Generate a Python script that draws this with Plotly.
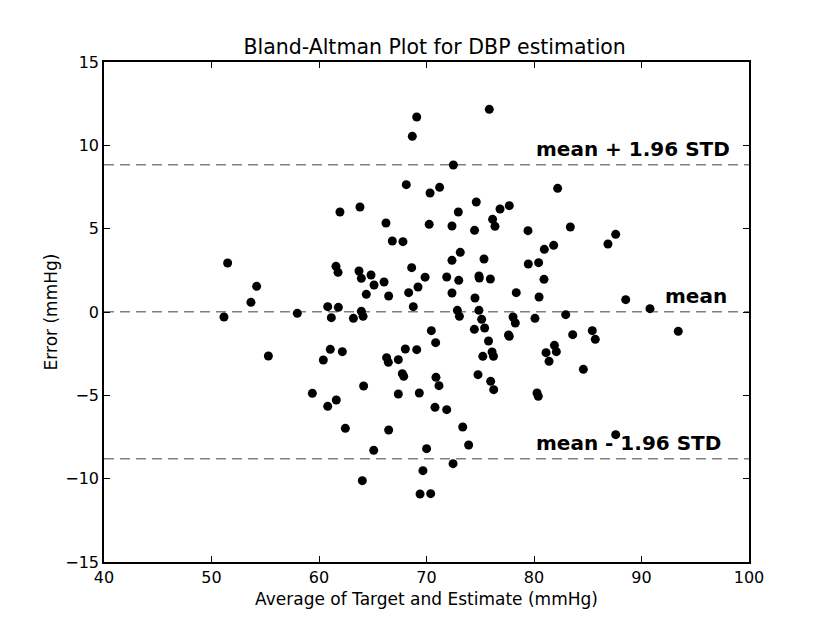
import plotly.graph_objects as go

# mean of target/estimate (x) and error (y)
avg_bp = [
    69.09, 68.68, 68.12, 70.33, 63.81, 61.95, 66.23, 70.25, 66.82, 67.81,
    51.50, 61.58, 61.77, 63.72, 64.84, 63.94, 66.05, 68.62, 65.12, 69.87,
    54.20, 69.21, 64.40, 66.48, 68.34, 53.67, 60.81, 61.80, 68.77, 63.94,
    51.16, 57.98, 61.15, 63.20, 64.10, 70.45, 55.29, 60.40, 61.05, 62.17,
    66.29, 66.45, 67.38, 68.03, 69.09, 67.75, 67.88, 59.38, 64.15, 67.38,
    69.33, 61.61, 60.81, 62.45, 66.48, 65.09, 70.01, 69.67, 64.03, 69.40,
    70.39, 72.87, 73.06, 74.88, 75.13, 74.45, 75.41, 70.85, 75.77, 76.10,
    76.23, 75.24, 78.05, 78.26, 80.09, 82.95, 77.63, 77.70, 83.60, 85.42,
    85.70, 93.42, 81.12, 81.90, 82.08, 81.40, 84.59, 70.88, 71.16, 74.79,
    75.97, 76.25, 80.28, 80.40, 70.79, 71.88, 73.37, 73.92, 87.60, 72.47,
    90.79, 88.53, 75.84, 72.50, 71.22, 82.20, 74.63, 72.96, 76.84, 77.70,
    76.15, 76.37, 72.37, 74.47, 79.44, 83.38, 87.60, 86.88, 81.83, 80.96,
    73.14, 72.37, 75.35, 79.47, 80.43, 71.88, 73.00, 74.88, 74.91, 75.94,
    80.93, 72.37, 74.51, 78.35, 80.47,
]
error = [
    11.70, 10.54, 7.64, 7.14, 6.30, 6.00, 5.34, 5.26, 4.26, 4.22,
    2.94, 2.74, 2.38, 2.46, 2.22, 2.02, 1.80, 2.66, 1.62, 2.09,
    1.54, 1.50, 1.06, 0.96, 1.16, 0.58, 0.32, 0.28, 0.32, 0.04,
    -0.30, -0.08, -0.34, -0.38, -0.26, -1.12, -2.64, -2.88, -2.24, -2.38,
    -2.74, -3.02, -2.86, -2.22, -2.26, -3.70, -3.86, -4.88, -4.44, -4.92,
    -4.86, -5.28, -5.66, -6.98, -7.08, -8.30, -8.20, -9.52, -10.12, -10.92,
    -10.90, 0.10, -0.26, 0.10, -0.44, -1.04, -0.96, -1.84, -1.74, -2.40,
    -2.66, -2.66, -0.30, -0.66, -0.38, -0.16, -1.38, -1.46, -1.36, -1.12,
    -1.64, -1.16, -2.44, -2.00, -2.38, -2.96, -3.44, -3.92, -4.42, -3.76,
    -4.16, -4.66, -4.86, -5.06, -5.72, -5.86, -6.90, -7.98, -7.36, -9.10,
    0.20, 0.74, 12.16, 8.82, 7.48, 7.42, 6.60, 6.00, 6.18, 6.38,
    5.56, 5.14, 5.16, 4.90, 4.88, 5.10, 4.66, 4.08, 4.00, 3.76,
    3.58, 3.10, 3.18, 2.88, 2.96, 2.10, 1.90, 2.16, 2.04, 1.98,
    1.96, 1.14, 0.84, 1.16, 0.90,
]

mean_err = 0.02
loa = 8.82  # 1.96 * std
x_range = [40, 100]
line_labels = ["mean + 1.96 STD", "mean", "mean - 1.96 STD"]
label_x = [80, 92, 80]
line_levels = [mean_err + loa, mean_err, mean_err - loa]

font = "DejaVu Sans"

fig = go.Figure()
for level in line_levels:
    fig.add_trace(go.Scatter(
        x=x_range, y=[level, level], mode="lines",
        line=dict(color="#808080", width=1.5, dash="10px,6px"),
        hoverinfo="skip",
    ))

fig.add_trace(go.Scatter(
    x=avg_bp, y=error, mode="markers",
    marker=dict(color="black", size=9),
))

for text, lx, level in zip(line_labels, label_x, line_levels):
    fig.add_annotation(
        x=lx, y=level, text="<b>%s</b>" % text, showarrow=False,
        xanchor="left", yanchor="bottom", yshift=2,
        font=dict(family=font, size=20, color="black"),
    )

axis_style = dict(
    showgrid=False, zeroline=False, showline=True, linecolor="black",
    linewidth=1.5, mirror="allticks", ticks="inside", ticklen=6,
    tickwidth=1, tickcolor="black",
    tickfont=dict(family=font, size=16, color="black"),
)

fig.update_layout(
    width=830, height=626,
    margin=dict(l=96, r=89, t=54, b=72),
    paper_bgcolor="white", plot_bgcolor="white",
    showlegend=False,
    title=dict(text="Bland-Altman Plot for DBP estimation", x=0.514,
               xanchor="center", y=0.938, yanchor="middle",
               font=dict(family=font, size=20.5, color="black")),
    xaxis=dict(range=x_range, dtick=10, tick0=40,
               title=dict(text="Average of Target and Estimate (mmHg)",
                          standoff=7, font=dict(family=font, size=17, color="black")),
               **axis_style),
    yaxis=dict(range=[-15, 15], dtick=5, tick0=-15,
               title=dict(text="Error (mmHg)", standoff=3,
                          font=dict(family=font, size=17, color="black")),
               **axis_style),
)

fig.write_html("out.html")
